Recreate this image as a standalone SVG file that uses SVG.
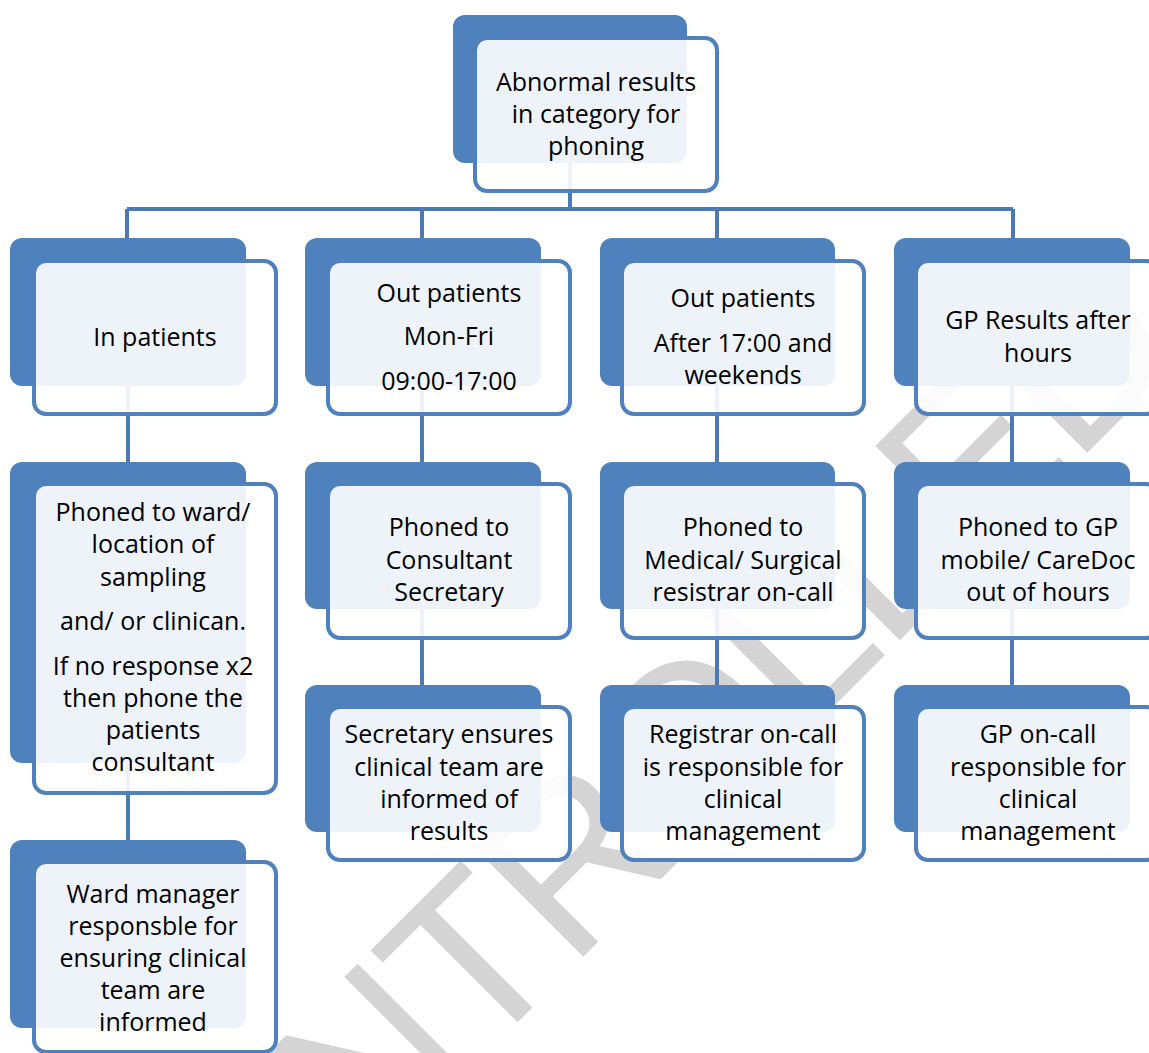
<svg xmlns="http://www.w3.org/2000/svg" width="1149" height="1053" viewBox="0 0 1149 1053">
<style>
.bk{fill:#4F81BD;}
.fr{fill:#FFFFFF;fill-opacity:0.9;stroke:#4F81BD;stroke-width:4;}
.t{font-family:"Open Sans","Liberation Sans",sans-serif;font-size:25px;fill:#000;text-anchor:middle;}
.cn{stroke:#4A79B4;stroke-width:4;fill:none;}
.wm{font-family:"Liberation Sans",Arial,sans-serif;font-size:225px;letter-spacing:-5px;fill:#D4D4D4;}
</style>
<rect width="1149" height="1053" fill="#FFFFFF"/>
<g id="watermark">
<text class="wm" transform="rotate(-45)" x="-1215" y="1089">UNCONTROLLED</text>
</g>
<g id="connectors">
<path class="cn" d="M570 163 V209 M127 209 H1013 M127 209 V238 M422 209 V238 M717 209 V238 M1013 209 V238"/>
<path class="cn" d="M128 386 V462 M422 386 V462 M717 386 V462 M1012 386 V462"/>
<path class="cn" d="M128 763 V840 M422 609 V685 M717 609 V685 M1012 609 V685"/>
</g>
<g id="n0">
<rect class="bk" x="453" y="15" width="234" height="148" rx="12"/>
<rect class="fr" x="475" y="38" width="242" height="153" rx="12"/>
<text class="t"><tspan x="596" y="91">Abnormal results</tspan><tspan x="596" y="123">in category for</tspan><tspan x="596" y="155">phoning</tspan></text>
</g>
<g id="n1">
<rect class="bk" x="10" y="238" width="236" height="148" rx="12"/>
<rect class="fr" x="34" y="261" width="242" height="153" rx="12"/>
<text class="t" x="155" y="346">In patients</text>
</g>
<g id="n2">
<rect class="bk" x="305" y="238" width="236" height="148" rx="12"/>
<rect class="fr" x="328" y="261" width="242" height="153" rx="12"/>
<text class="t"><tspan x="449" y="302">Out patients</tspan><tspan x="449" y="345">Mon-Fri</tspan><tspan x="449" y="390">09:00-17:00</tspan></text>
</g>
<g id="n3">
<rect class="bk" x="600" y="238" width="235" height="148" rx="12"/>
<rect class="fr" x="622" y="261" width="242" height="153" rx="12"/>
<text class="t"><tspan x="743" y="307">Out patients</tspan><tspan x="743" y="352">After 17:00 and</tspan><tspan x="743" y="384">weekends</tspan></text>
</g>
<g id="n4">
<rect class="bk" x="894" y="238" width="236" height="148" rx="12"/>
<rect class="fr" x="916" y="261" width="242" height="153" rx="12"/>
<text class="t"><tspan x="1038" y="329">GP Results after</tspan><tspan x="1038" y="362">hours</tspan></text>
</g>
<g id="n5">
<rect class="bk" x="10" y="462" width="236" height="301" rx="12"/>
<rect class="fr" x="34" y="484" width="242" height="309" rx="12"/>
<text class="t"><tspan x="153" y="521">Phoned to ward/</tspan><tspan x="153" y="553">location of</tspan><tspan x="153" y="586">sampling</tspan><tspan x="153" y="630">and/ or clinican.</tspan><tspan x="153" y="675">If no response x2</tspan><tspan x="153" y="707">then phone the</tspan><tspan x="153" y="739">patients</tspan><tspan x="153" y="771">consultant</tspan></text>
</g>
<g id="n6">
<rect class="bk" x="305" y="462" width="236" height="147" rx="12"/>
<rect class="fr" x="328" y="484" width="242" height="154" rx="12"/>
<text class="t"><tspan x="449" y="536">Phoned to</tspan><tspan x="449" y="569">Consultant</tspan><tspan x="449" y="601">Secretary</tspan></text>
</g>
<g id="n7">
<rect class="bk" x="600" y="462" width="235" height="147" rx="12"/>
<rect class="fr" x="622" y="484" width="242" height="154" rx="12"/>
<text class="t"><tspan x="743" y="536">Phoned to</tspan><tspan x="743" y="569">Medical/ Surgical</tspan><tspan x="743" y="601">resistrar on-call</tspan></text>
</g>
<g id="n8">
<rect class="bk" x="894" y="462" width="236" height="147" rx="12"/>
<rect class="fr" x="916" y="484" width="242" height="154" rx="12"/>
<text class="t"><tspan x="1038" y="536">Phoned to GP</tspan><tspan x="1038" y="569">mobile/ CareDoc</tspan><tspan x="1038" y="601">out of hours</tspan></text>
</g>
<g id="n9">
<rect class="bk" x="305" y="685" width="236" height="147" rx="12"/>
<rect class="fr" x="328" y="707" width="242" height="153" rx="12"/>
<text class="t"><tspan x="449" y="743">Secretary ensures</tspan><tspan x="449" y="776">clinical team are</tspan><tspan x="449" y="808">informed of</tspan><tspan x="449" y="840">results</tspan></text>
</g>
<g id="n10">
<rect class="bk" x="600" y="685" width="235" height="147" rx="12"/>
<rect class="fr" x="622" y="707" width="242" height="153" rx="12"/>
<text class="t"><tspan x="743" y="743">Registrar on-call</tspan><tspan x="743" y="776">is responsible for</tspan><tspan x="743" y="808">clinical</tspan><tspan x="743" y="840">management</tspan></text>
</g>
<g id="n11">
<rect class="bk" x="894" y="685" width="236" height="147" rx="12"/>
<rect class="fr" x="916" y="707" width="242" height="153" rx="12"/>
<text class="t"><tspan x="1038" y="743">GP on-call</tspan><tspan x="1038" y="776">responsible for</tspan><tspan x="1038" y="808">clinical</tspan><tspan x="1038" y="840">management</tspan></text>
</g>
<g id="n12">
<rect class="bk" x="10" y="840" width="236" height="188" rx="12"/>
<rect class="fr" x="34" y="862" width="242" height="190" rx="12"/>
<text class="t"><tspan x="153" y="903">Ward manager</tspan><tspan x="153" y="935">responsble for</tspan><tspan x="153" y="967">ensuring clinical</tspan><tspan x="153" y="999">team are</tspan><tspan x="153" y="1031">informed</tspan></text>
</g>
</svg>
